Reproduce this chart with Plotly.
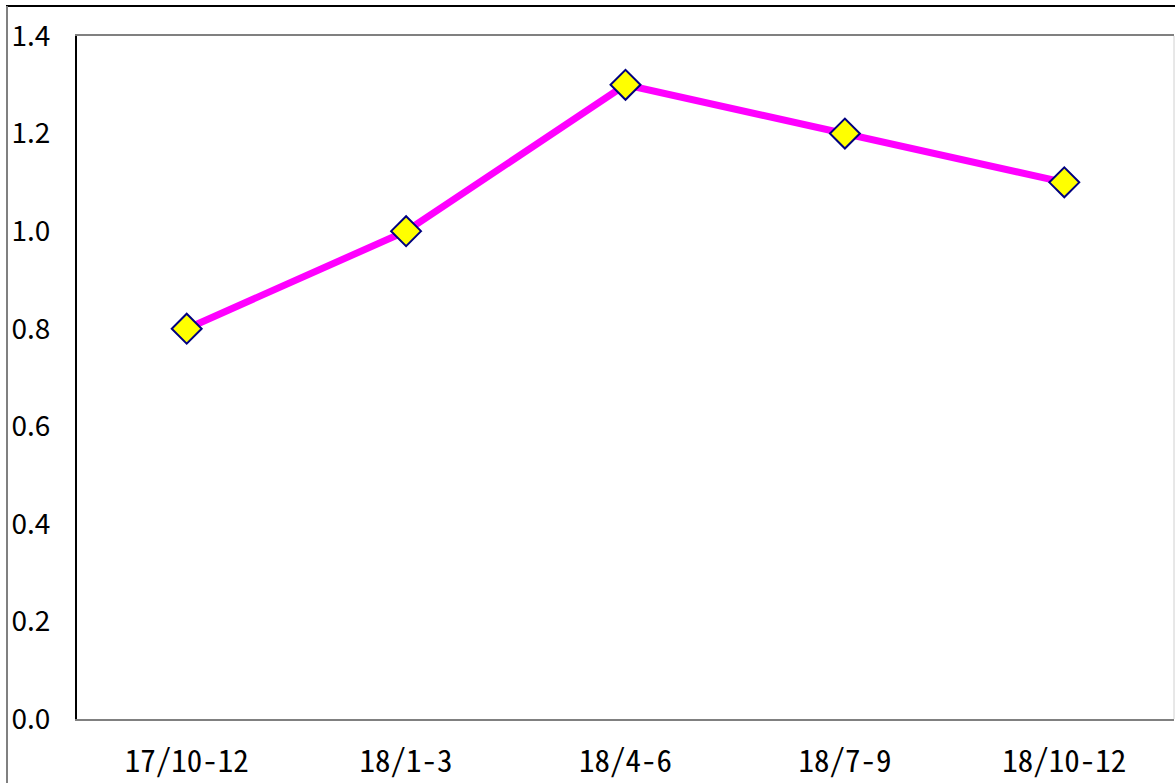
import plotly.graph_objects as go

quarters = ['17/10-12', '18/1-3', '18/4-6', '18/7-9', '18/10-12']
values = [0.8, 1.0, 1.3, 1.2, 1.1]
ytick_vals = [0.0, 0.2, 0.4, 0.6, 0.8, 1.0, 1.2, 1.4]

font_mono = 'Noto Sans Mono CJK JP, Noto Sans CJK JP, sans-serif'
font_prop = 'Noto Sans CJK JP, sans-serif'

fig = go.Figure()
fig.add_trace(go.Scatter(
    x=quarters, y=values, mode='lines+markers',
    line=dict(color='#FF00FF', width=7),
    marker=dict(symbol='diamond', size=23, color='#FFFF00',
                line=dict(color='#000080', width=2)),
    showlegend=False,
))

fig.update_layout(
    width=1175, height=783,
    margin=dict(l=77, r=1, t=36, b=64),
    plot_bgcolor='white', paper_bgcolor='white',
    font=dict(family=font_prop, size=28, color='black'),
    xaxis=dict(range=[-0.5, 4.5], showgrid=False, zeroline=False,
               showline=True, linecolor='#808080', linewidth=2, mirror=True,
               ticks='', ticklabelstandoff=14,
               tickfont=dict(family=font_mono, size=31)),
    yaxis=dict(range=[0, 1.4], tickvals=ytick_vals, tickformat='.1f',
               showgrid=False, zeroline=False,
               showline=True, linecolor='black', linewidth=2,
               ticks='', ticklabelstandoff=19,
               tickfont=dict(family=font_prop, size=28)),
    # outer frame lines and right edge of plot area
    shapes=[
        dict(type='line', xref='paper', yref='paper', x0=1, x1=1, y0=0, y1=1,
             line=dict(color='#d0d0d0', width=1)),
        dict(type='line', xref='paper', yref='paper',
             x0=(6 - 77) / 1097, x1=1.01, y0=1 + 30 / 683, y1=1 + 30 / 683,
             line=dict(color='black', width=2)),
        dict(type='line', xref='paper', yref='paper',
             x0=(7 - 77) / 1097, x1=(7 - 77) / 1097, y0=-0.2, y1=1 + 30 / 683,
             line=dict(color='#808080', width=2)),
    ],
)

fig.write_html('out.html', config={'displayModeBar': False},
               post_script="document.body.style.margin='0px';")
